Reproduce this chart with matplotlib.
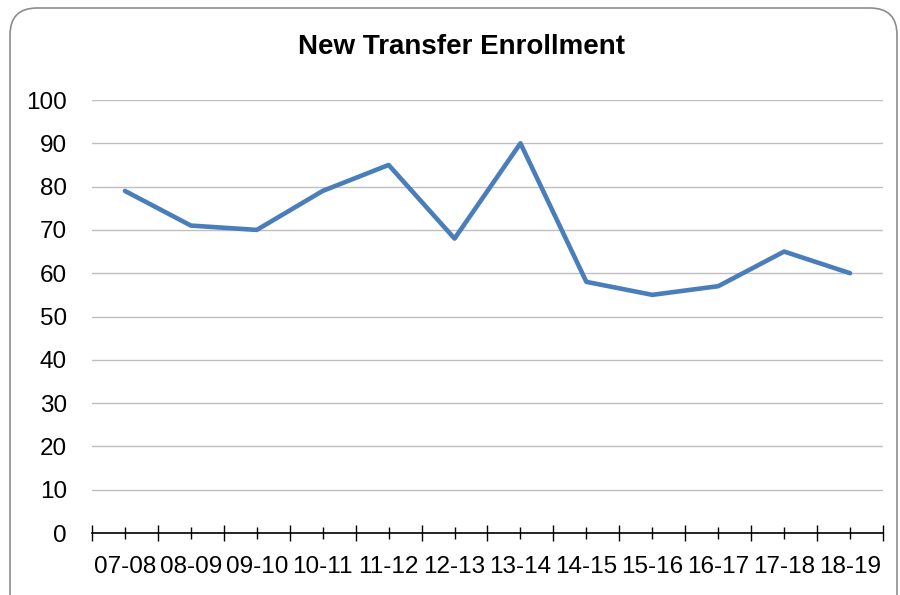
import matplotlib.pyplot as plt
from matplotlib.patches import FancyBboxPatch
import numpy as np

# dados
anos = ['07-08', '08-09', '09-10', '10-11', '11-12', '12-13',
        '13-14', '14-15', '15-16', '16-17', '17-18', '18-19']
matriculas = [79, 71, 70, 79, 85, 68, 90, 58, 55, 57, 65, 60]
y_ticks = [0, 10, 20, 30, 40, 50, 60, 70, 80, 90, 100]

plt.rcParams['font.family'] = ['Liberation Sans', 'DejaVu Sans']

fig = plt.figure(figsize=(9, 5.95), dpi=100)
W, H = 900, 595

# moldura arredondada estilo Excel
borda = FancyBboxPatch((10 / W, -40 / H), 887 / W, (595 - 8 + 40) / H,
                       boxstyle='round,pad=0,rounding_size=0.03',
                       transform=fig.transFigure, fill=False,
                       edgecolor='#8c8c8c', linewidth=1.2,
                       mutation_aspect=W / H)
fig.patches.append(borda)

ax = fig.add_axes([92 / W, 1 - 533 / H, (883 - 92) / W, (533 - 100) / H])
x = np.arange(len(anos))
ax.plot(x, matriculas, color='#4A7EBB', linewidth=3.3, solid_joinstyle='round',
        solid_capstyle='round', zorder=3)

ax.set_xlim(-0.5, len(anos) - 0.5)
ax.set_ylim(0, 100)
ax.set_yticks(y_ticks)
ax.set_yticklabels([str(v) for v in y_ticks])
ax.grid(axis='y', color='#bfbfbf', linewidth=1)
ax.set_axisbelow(True)

ax.set_xticks(x)
ax.set_xticklabels(anos)
ax.set_xticks(np.arange(-0.5, len(anos)), minor=True)
ax.tick_params(axis='x', which='major', direction='inout', length=8.5,
               width=1, pad=12, labelsize=17.5, color='black')
ax.tick_params(axis='x', which='minor', direction='inout', length=11.5,
               width=1, color='black')
ax.tick_params(axis='y', length=0, pad=18, labelsize=17.5)

for s in ['top', 'right', 'left']:
    ax.spines[s].set_visible(False)
ax.spines['bottom'].set_linewidth(1.2)

fig.text(462 / W, 1 - 47 / H, 'New Transfer Enrollment', ha='center',
         va='center', fontsize=20, fontweight='bold')

fig.savefig('out.png', dpi=100)
